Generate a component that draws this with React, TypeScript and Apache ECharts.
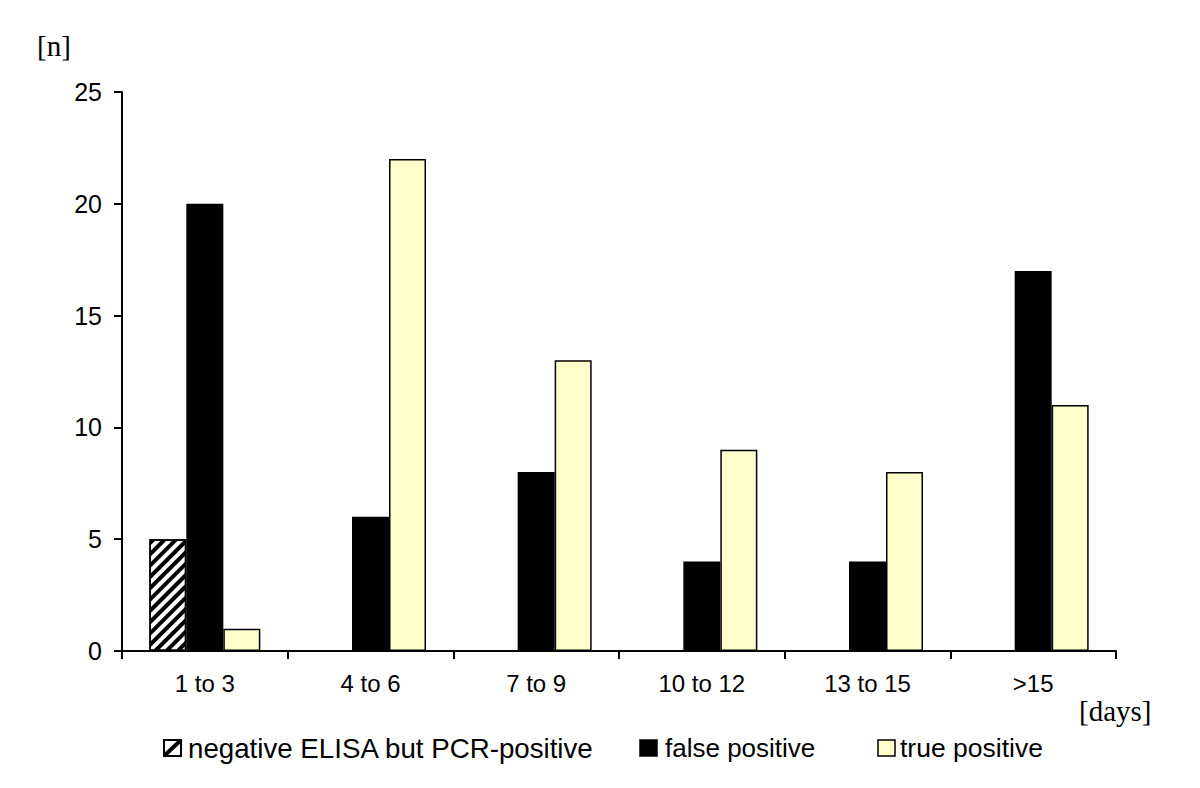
import React, { useEffect, useRef } from "react";
import * as echarts from "echarts";

const categories = ["1 to 3", "4 to 6", "7 to 9", "10 to 12", "13 to 15", ">15"];
const negElisaPcrPos: (number | string)[] = [5, "-", "-", "-", "-", "-"];
const falsePositive = [20, 6, 8, 4, 4, 17];
const truePositive = [1, 22, 13, 9, 8, 11];
const seriesNames = ["negative ELISA but PCR-positive", "false positive", "true positive"];
const yTicks = { min: 0, max: 25, interval: 5 };

export default function App() {
  const ref = useRef<HTMLDivElement>(null);
  useEffect(() => {
    if (!ref.current) return;
    const chart = echarts.init(ref.current, undefined, { renderer: "svg" });
    const labelFont = "Arial, 'Liberation Sans', sans-serif";
    const serif = "'Times New Roman', 'Liberation Serif', serif";
    const barBorder = { borderColor: "#000", borderWidth: 1.5 };
    chart.setOption({
      animation: false,
      backgroundColor: "#fff",
      grid: { left: 122, right: 84, top: 92, bottom: 137, containLabel: false },
      xAxis: {
        type: "category",
        data: categories,
        boundaryGap: true,
        axisLine: { lineStyle: { color: "#000", width: 2 } },
        axisTick: { show: true, length: 8, alignWithLabel: false, lineStyle: { color: "#000", width: 2 } },
        axisLabel: { color: "#000", fontSize: 24, fontFamily: labelFont, margin: 20 },
        splitLine: { show: false },
      },
      yAxis: {
        type: "value",
        min: yTicks.min,
        max: yTicks.max,
        interval: yTicks.interval,
        axisLine: { show: true, lineStyle: { color: "#000", width: 2 } },
        axisTick: { show: true, length: 8, lineStyle: { color: "#000", width: 2 } },
        axisLabel: { color: "#000", fontSize: 25, fontFamily: labelFont, margin: 20 },
        splitLine: { show: false },
      },
      series: [
        {
          name: seriesNames[0],
          type: "bar",
          data: negElisaPcrPos,
          barWidth: 37,
          barGap: "0%",
          itemStyle: {
            color: "#fff",
            ...barBorder,
            decal: {
              symbol: "rect",
              symbolSize: 1,
              color: "#000",
              dashArrayX: [1, 0],
              dashArrayY: [4, 4],
              rotation: -Math.PI / 4,
            },
          },
        },
        {
          name: seriesNames[1],
          type: "bar",
          data: falsePositive,
          barWidth: 37,
          barGap: "0%",
          itemStyle: { color: "#000", ...barBorder },
        },
        {
          name: seriesNames[2],
          type: "bar",
          data: truePositive,
          barWidth: 37,
          barGap: "0%",
          itemStyle: { color: "#FFFFCC", ...barBorder },
        },
      ],
      graphic: [
        {
          type: "text",
          left: 37,
          top: 31,
          style: { text: "[n]", font: `29px ${serif}`, fill: "#000" },
        },
        {
          type: "text",
          left: 1079,
          top: 696,
          style: { text: "[days]", font: `29px ${serif}`, fill: "#000" },
        },
        // legend
        {
          type: "group",
          children: [
            { type: "rect", shape: { x: 164, y: 740, width: 17, height: 16 }, style: { fill: "#fff", stroke: "#000", lineWidth: 2 } },
            { type: "line", shape: { x1: 164, y1: 756, x2: 181, y2: 740 }, style: { stroke: "#000", lineWidth: 4 } },
            { type: "text", x: 188, y: 748, style: { text: seriesNames[0], font: `27.7px ${labelFont}`, fill: "#000", verticalAlign: "middle" } },
            { type: "rect", shape: { x: 640, y: 740, width: 17, height: 16 }, style: { fill: "#000", stroke: "#000", lineWidth: 1.5 } },
            { type: "text", x: 665, y: 748, style: { text: seriesNames[1], font: `26px ${labelFont}`, fill: "#000", verticalAlign: "middle" } },
            { type: "rect", shape: { x: 878, y: 740, width: 17, height: 16 }, style: { fill: "#FFFFCC", stroke: "#000", lineWidth: 1.5 } },
            { type: "text", x: 900, y: 748, style: { text: seriesNames[2], font: `26.5px ${labelFont}`, fill: "#000", verticalAlign: "middle" } },
          ],
        },
      ],
    });
    return () => chart.dispose();
  }, []);
  return <div ref={ref} style={{ width: 1200, height: 788, position: "absolute", left: 0, top: 0 }} />;
}
